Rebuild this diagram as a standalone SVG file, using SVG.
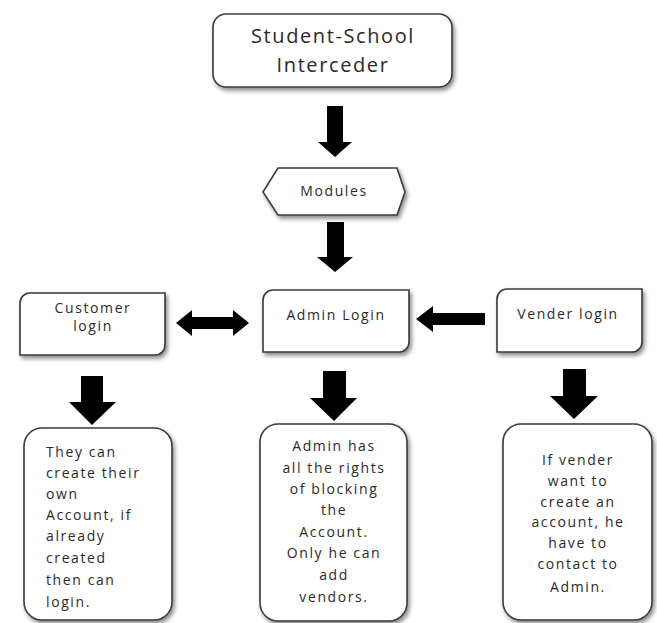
<svg xmlns="http://www.w3.org/2000/svg" width="657" height="623" viewBox="0 0 657 623">
<defs>
<filter id="sh" x="-10%" y="-10%" width="125%" height="130%">
<feDropShadow dx="2" dy="3" stdDeviation="2" flood-color="#000" flood-opacity="0.45"/>
</filter>
<filter id="blur" x="-10%" y="-10%" width="120%" height="120%">
<feGaussianBlur stdDeviation="0.6"/>
</filter>
</defs>
<style>
.box{fill:#fff;stroke:#3a3a3a;stroke-width:1.6;filter:url(#sh)}
.t{font-family:"Open Sans","Liberation Sans",sans-serif;fill:#2a2a2a;font-size:14px;letter-spacing:1.6px}
.c{text-anchor:middle}
.title{font-size:20px;letter-spacing:1.6px}
.arr{fill:#000;filter:url(#blur)}
</style>
<rect width="657" height="623" fill="#fff"/>

<g id="connectors">
<polygon class="arr" points="327,106 343,106 343,142 352,142 335,157 318,142 327,142"/>
<polygon class="arr" points="327,222 344,222 344,257 353,257 335,272 317,257 327,257"/>
<polygon class="arr" points="176,323 192,310 192,317 233,317 233,310 249,323 233,336 233,329 192,329 192,336"/>
<polygon class="arr" points="416,319 433,306 433,313 485,313 485,325 433,325 433,332"/>
<polygon class="arr" points="81,376 103,376 103,402 116,402 92,425 69,402 81,402"/>
<polygon class="arr" points="323,371 346,371 346,398 357,398 334,421 310,398 323,398"/>
<polygon class="arr" points="563,369 586,369 586,396 598,396 574,419 550,396 563,396"/>
</g>

<g id="title">
<rect class="box" x="213" y="14" width="239" height="73" rx="13"/>
<text class="t c title" x="333" y="43">Student-School</text>
<text class="t c title" x="333" y="72">Interceder</text>
</g>

<g id="modules">
<polygon class="box" points="263,192 278,168 397,168 405,192 397,215 278,215"/>
<text class="t c" x="334" y="196">Modules</text>
</g>

<g id="customer-login">
<path class="box" d="M30,293 H165 V345 A10,10 0 0 1 155,355 H20 V303 A10,10 0 0 1 30,293 Z"/>
<text class="t c" x="93" y="313">Customer</text>
<text class="t c" x="93" y="331">login</text>
</g>

<g id="admin-login">
<path class="box" d="M273,290 H409 V342 A10,10 0 0 1 399,352 H263 V300 A10,10 0 0 1 273,290 Z"/>
<text class="t c" x="336" y="320">Admin Login</text>
</g>

<g id="vender-login">
<path class="box" d="M507,289 H642 V342 A10,10 0 0 1 632,352 H497 V299 A10,10 0 0 1 507,289 Z"/>
<text class="t c" x="568" y="319">Vender login</text>
</g>

<g id="customer-desc">
<rect class="box" x="24" y="428" width="148" height="192" rx="18"/>
<text class="t" x="46" y="457">They can</text>
<text class="t" x="46" y="478">create their</text>
<text class="t" x="46" y="499">own</text>
<text class="t" x="46" y="520">Account, if</text>
<text class="t" x="46" y="541">already</text>
<text class="t" x="46" y="563">created</text>
<text class="t" x="46" y="585">then can</text>
<text class="t" x="46" y="607">login.</text>
</g>

<g id="admin-desc">
<rect class="box" x="260" y="424" width="147" height="197" rx="18"/>
<text class="t c" x="334" y="451">Admin has</text>
<text class="t c" x="334" y="473">all the rights</text>
<text class="t c" x="334" y="494">of blocking</text>
<text class="t c" x="334" y="515">the</text>
<text class="t c" x="334" y="537">Account.</text>
<text class="t c" x="334" y="558">Only he can</text>
<text class="t c" x="334" y="580">add</text>
<text class="t c" x="334" y="602">vendors.</text>
</g>

<g id="vender-desc">
<rect class="box" x="503" y="424" width="149" height="196" rx="18"/>
<text class="t c" x="578" y="465">If vender</text>
<text class="t c" x="578" y="486">want to</text>
<text class="t c" x="578" y="507">create an</text>
<text class="t c" x="578" y="527">account, he</text>
<text class="t c" x="578" y="548">have to</text>
<text class="t c" x="578" y="569">contact to</text>
<text class="t c" x="578" y="592">Admin.</text>
</g>
</svg>
